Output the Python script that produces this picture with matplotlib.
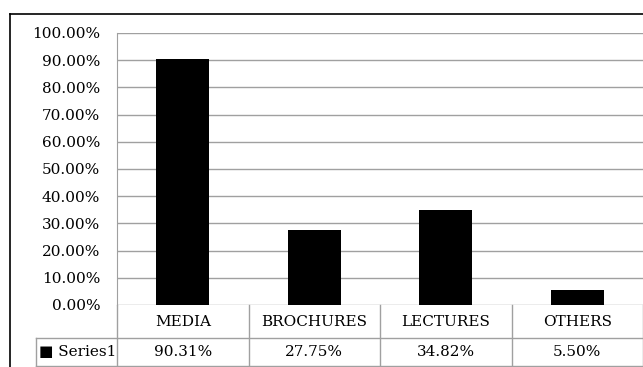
import numpy as np
import matplotlib
matplotlib.use('Agg')
import matplotlib.pyplot as plt
from matplotlib.lines import Line2D
from matplotlib.transforms import blended_transform_factory

categories = ['MEDIA', 'BROCHURES', 'LECTURES', 'OTHERS']
values = [90.31, 27.75, 34.82, 5.50]
series_name = 'Series1'
yticks = np.arange(0, 101, 10)

W, H = 643, 367
grid_col = '#a0a0a0'
plt.rcParams['font.family'] = 'DejaVu Serif'
plt.rcParams['font.size'] = 11

fig = plt.figure(figsize=(W / 100, H / 100), dpi=100)

# plot area in pixels: x 117..643, y 33..305
ax = fig.add_axes([117 / W, 1 - 305 / H, 526 / W, 272 / H])
x = np.arange(len(categories))
ax.bar(x, values, width=0.4, color='black', zorder=3)
ax.set_xlim(-0.5, len(categories) - 0.5)
ax.set_ylim(0, 100)
ax.set_yticks(yticks)
ax.set_yticklabels(['%.2f%%' % v for v in yticks])
ax.tick_params(axis='y', length=0, pad=12, labelsize=11)
ax.set_xticks([])
ax.yaxis.grid(True, color=grid_col, linewidth=1)
ax.set_axisbelow(True)
for s in ['top', 'right', 'bottom']:
    ax.spines[s].set_visible(False)
ax.spines['left'].set_color(grid_col)

# data table below the axes
tr = blended_transform_factory(ax.transData, ax.transAxes)
px = 1 / 272  # one pixel in axes fraction (vertical)
row1 = -33 * px
row2 = -61 * px
for i, cat in enumerate(categories):
    ax.text(i, row1 / 2, cat, transform=tr, ha='center', va='center')
    ax.text(i, (row1 + row2) / 2, '%.2f%%' % values[i], transform=tr,
            ha='center', va='center')
for b in np.arange(-0.5, len(categories), 1.0):
    ax.add_line(Line2D([b, b], [0, row2], transform=tr, color=grid_col,
                       lw=1, clip_on=False))
# row label cell extends to the left of the axes
lab_left = -81 / 526  # axes fraction
for yy in [row1, row2]:
    ax.add_line(Line2D([lab_left, 1], [yy, yy], transform=ax.transAxes,
                       color=grid_col, lw=1, clip_on=False))
ax.add_line(Line2D([lab_left, lab_left], [row1, row2], transform=ax.transAxes,
                   color=grid_col, lw=1, clip_on=False))
ax.text(lab_left + 3 / 526, (row1 + row2) / 2, '\u25a0 ' + series_name,
        transform=ax.transAxes, ha='left', va='center')

# outer chart border
fig.add_artist(Line2D([10 / W, 10 / W], [1 - 14 / H, 0], transform=fig.transFigure,
                      color='black', lw=1.2))
fig.add_artist(Line2D([10 / W, 1], [1 - 14 / H, 1 - 14 / H], transform=fig.transFigure,
                      color='black', lw=1.2))

fig.savefig('out.png', dpi=100)
